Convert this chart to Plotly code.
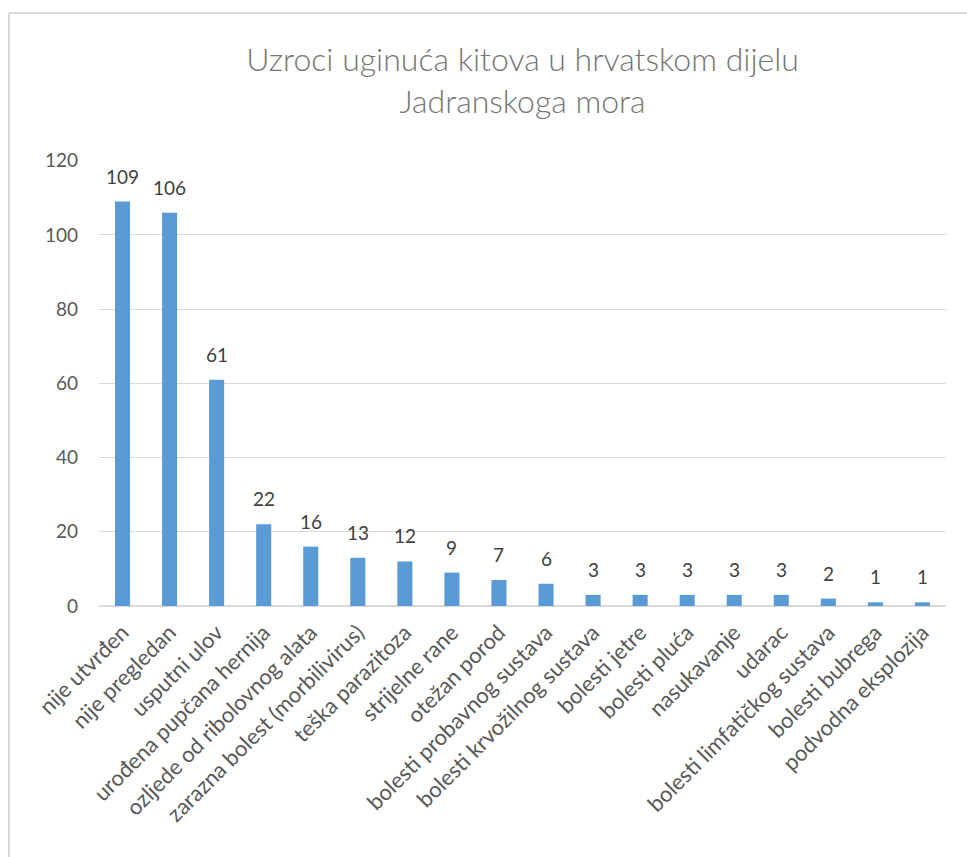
import plotly.graph_objects as go

categories = ["nije utvrđen", "nije pregledan", "usputni ulov", "urođena pupčana hernija",
              "ozljede od ribolovnog alata", "zarazna bolest (morbilivirus)", "teška parazitoza",
              "strijelne rane", "otežan porod", "bolesti probavnog sustava",
              "bolesti krvožilnog sustava", "bolesti jetre", "bolesti pluća", "nasukavanje",
              "udarac", "bolesti limfatičkog sustava", "bolesti bubrega", "podvodna eksplozija"]
values = [109, 106, 61, 22, 16, 13, 12, 9, 7, 6, 3, 3, 3, 3, 3, 2, 1, 1]
y_ticks = [0, 20, 40, 60, 80, 100, 120]
title_text = "Uzroci uginuća kitova u hrvatskom dijelu<br>Jadranskoga mora"

FONT = "Lato"
W, H = 967, 857
L, R, T, B = 99, 21, 160, 251
pw, ph = W - L - R, H - T - B

fig = go.Figure()
fig.add_trace(go.Bar(x=categories, y=values, marker=dict(color="#5B9BD5", line=dict(width=0)),
                     hoverinfo="x+y"))

for c, v in zip(categories, values):
    fig.add_annotation(x=c, y=v, text=str(v), showarrow=False, yanchor="bottom",
                       yshift=12, font=dict(family=FONT, size=19, color="#404040"))

# chart border (top and left edges visible)
bx0 = (9 - L) / pw
by1 = 1 + (T - 13) / ph
fig.add_shape(type="line", xref="paper", yref="paper", x0=bx0, x1=2, y0=by1, y1=by1,
              line=dict(color="#D9D9D9", width=2))
fig.add_shape(type="line", xref="paper", yref="paper", x0=bx0, x1=bx0, y0=by1, y1=-2,
              line=dict(color="#D9D9D9", width=2))

fig.update_layout(
    width=W, height=H,
    margin=dict(l=L, r=R, t=T, b=B, autoexpand=False),
    paper_bgcolor="white", plot_bgcolor="white",
    bargap=0.68,
    showlegend=False,
    title=dict(text=title_text, x=0.5, xref="paper", xanchor="center",
               y=1 - 71 / H, yanchor="middle",
               font=dict(family=FONT, size=32, color="#757575", weight=300)),
    xaxis=dict(tickangle=-45, tickfont=dict(family=FONT, size=22, color="#595959"),
               showgrid=False, showline=True, linecolor="#D9D9D9", linewidth=1, ticks="",
               ticklabelstandoff=4),
    yaxis=dict(range=[0, 120.2], tickvals=y_ticks, tickfont=dict(family=FONT, size=19, color="#595959"),
               showgrid=True, gridcolor="#D9D9D9", gridwidth=1, zeroline=True,
               zerolinecolor="#D9D9D9", showline=False, ticks="", ticklabelstandoff=20),
)

fig.write_html("out.html")
